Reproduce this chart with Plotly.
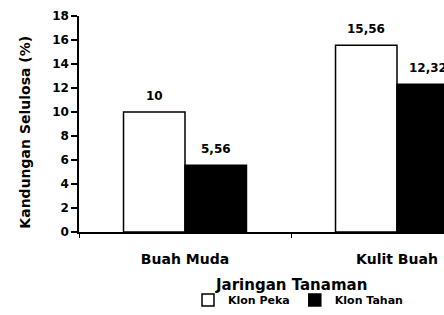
import plotly.graph_objects as go

categories = ["Buah Muda", "Kulit Buah"]
klon_peka = [10, 15.56]
klon_tahan = [5.56, 12.32]
y_ticks = [0, 2, 4, 6, 8, 10, 12, 14, 16, 18]

FONT = "DejaVu Sans, Arial, sans-serif"
bargap = 0.42
w = (1 - bargap) / 2

fig = go.Figure()
fig.add_trace(go.Bar(
    x=categories, y=klon_peka, name="Klon Peka",
    marker=dict(color="white", line=dict(color="black", width=1.5)),
))
fig.add_trace(go.Bar(
    x=categories, y=klon_tahan, name="Klon Tahan",
    marker=dict(color="black", line=dict(color="black", width=1.5)),
))

def fmt(v):
    return f"{v:g}".replace(".", ",")

annotations = []
for i, (p, t) in enumerate(zip(klon_peka, klon_tahan)):
    for off, v in ((-w / 2, p), (w / 2, t)):
        annotations.append(dict(
            x=i + off, y=v, xref="x", yref="y", text=fmt(v), showarrow=False,
            yanchor="bottom", yshift=7,
            font=dict(family=FONT, size=12, color="black", weight="bold"),
        ))

plot_left, plot_right = 79, 444
full_right = 503
full_center = (plot_left + full_right) / 2
annotations.append(dict(
    x=(full_center - plot_left) / (plot_right - plot_left), y=-0.245,
    xref="paper", yref="paper", text="Jaringan Tanaman", showarrow=False,
    xanchor="center", yanchor="middle",
    font=dict(family=FONT, size=15, color="black", weight="bold"),
))
annotations.append(dict(
    x=(25 - plot_left) / (plot_right - plot_left), y=0.46,
    xref="paper", yref="paper", text="Kandungan Selulosa (%)", showarrow=False,
    textangle=-90, xanchor="center", yanchor="middle",
    font=dict(family=FONT, size=14, color="black", weight="bold"),
))

fig.update_layout(
    width=444, height=315,
    margin=dict(l=79, r=0, t=16, b=83),
    paper_bgcolor="white", plot_bgcolor="white",
    barmode="group", bargap=bargap, bargroupgap=0,
    showlegend=True,
    legend=dict(
        orientation="h", x=0.60, xanchor="center", y=-0.315, yanchor="middle",
        font=dict(family=FONT, size=11, color="black", weight="bold"),
        itemwidth=30, tracegroupgap=0,
    ),
    annotations=annotations,
    xaxis=dict(
        range=[-0.5, -0.5 + (plot_right - plot_left) / ((full_right - plot_left) / 2)],
        showline=True, linecolor="black", linewidth=1.5,
        ticks="outside", tickson="boundaries", ticklen=4, tickcolor="black",
        ticklabelstandoff=13,
        tickfont=dict(family=FONT, size=14, color="black", weight="bold"),
        showgrid=False, zeroline=False,
    ),
    yaxis=dict(
        range=[0, 18], tickvals=y_ticks,
        showline=True, linecolor="black", linewidth=1.5,
        ticks="outside", ticklen=6, tickcolor="black", tickwidth=1.5,
        tickfont=dict(family=FONT, size=12, color="black", weight="bold"),
        showgrid=False, zeroline=False,
    ),
)

fig.write_html("out.html", config={"displayModeBar": False},
               post_script="document.body.style.margin='0';")
